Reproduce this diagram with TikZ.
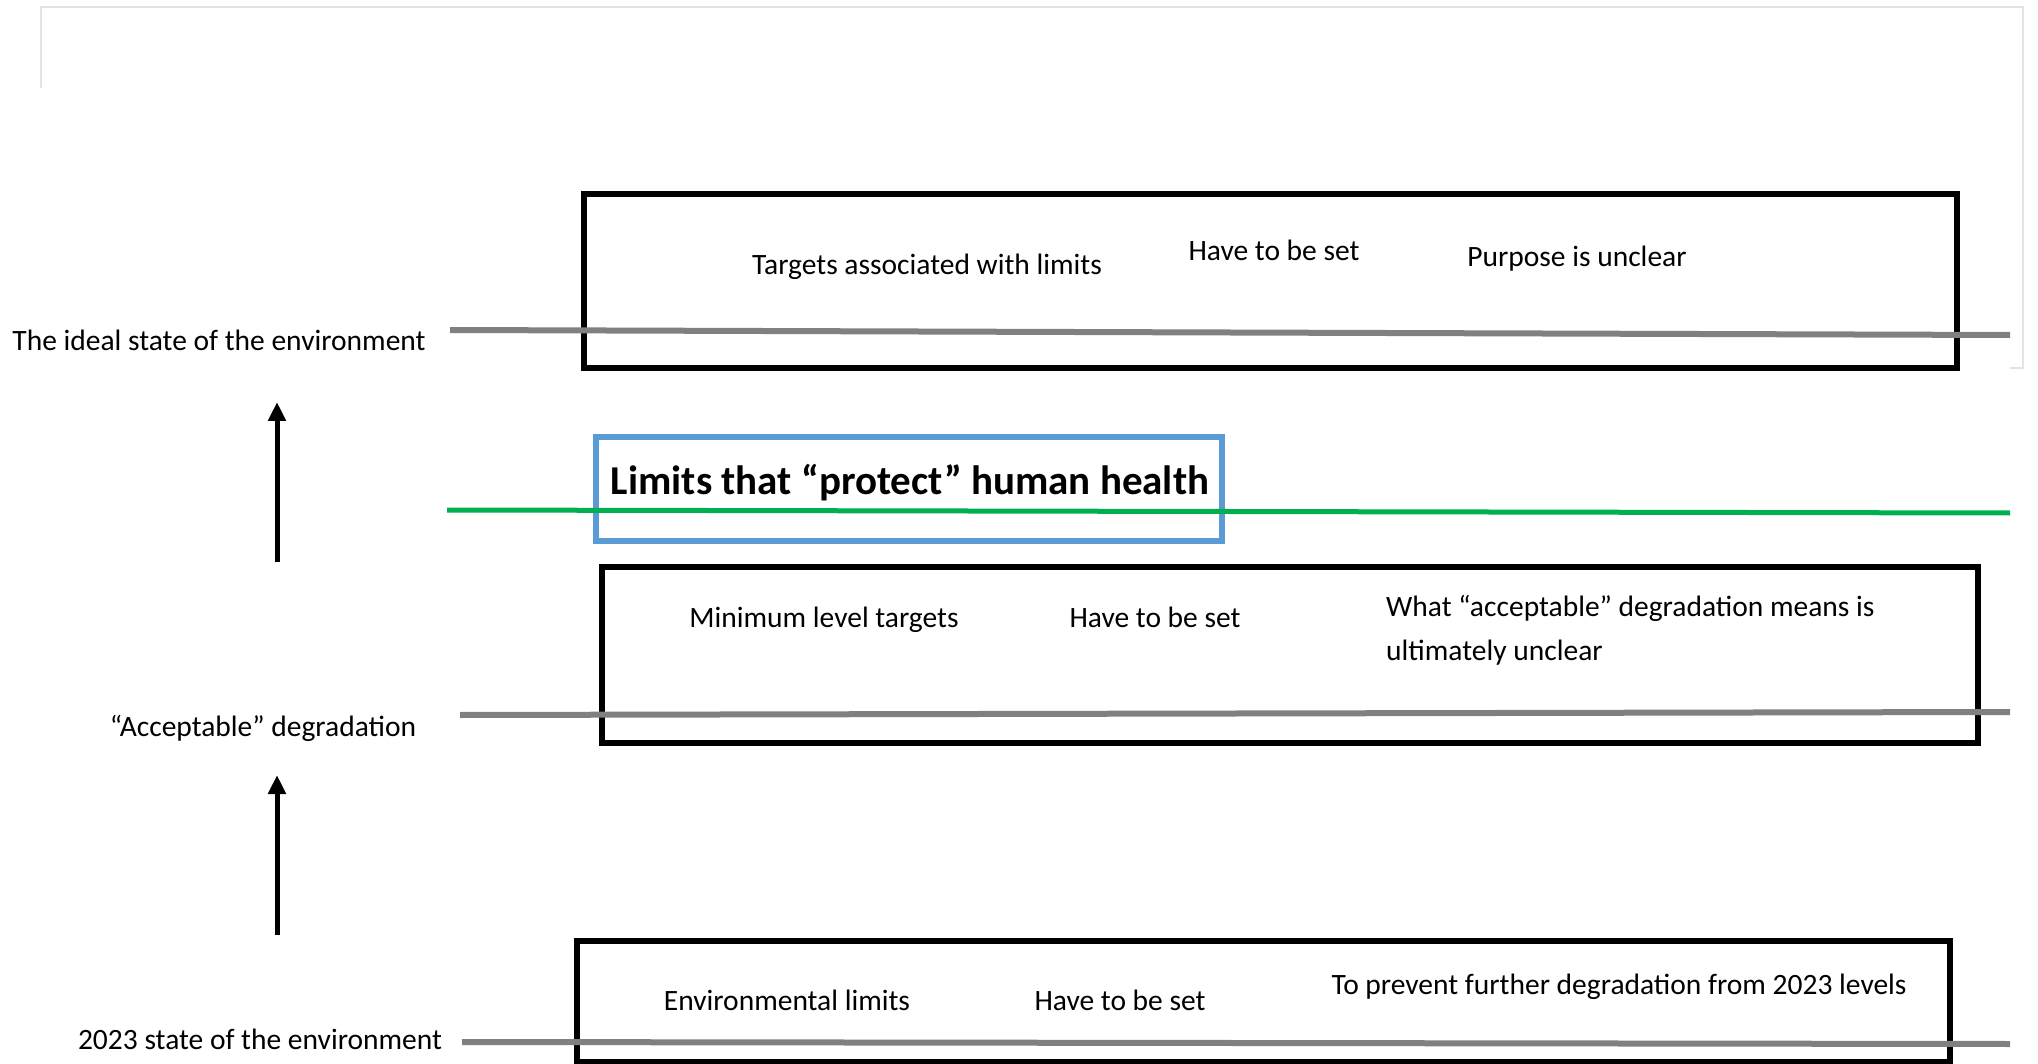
\documentclass[tikz,border=0pt]{standalone}
\usepackage{fontspec}
\setmainfont{Carlito}
\usetikzlibrary{arrows.meta,positioning}
\definecolor{levelgray}{RGB}{128,128,128}
\definecolor{healthblue}{RGB}{91,155,213}
\definecolor{healthgreen}{RGB}{0,176,80}
\definecolor{framegray}{RGB}{228,228,228}

\begin{document}
\begin{tikzpicture}[x=1pt,y=-1pt,
  txt/.style={font=\fontsize{29.5}{44}\selectfont, inner sep=0pt, anchor=base},
  levelbox/.style={draw=black, line width=6pt, inner sep=0pt, outer sep=0pt},
  levelline/.style={draw=levelgray, line width=6pt},
  up/.style={-{Triangle[length=19pt,width=17pt]}, line width=5pt}]
\useasboundingbox (0,0) rectangle (2038,1064);
% faint frame round the top
\draw[framegray, line width=2pt] (41,88) -- (41,7) -- (2023,7) -- (2023,368) -- (2010,368);
% the three boxes
\node[levelbox, minimum width=1373pt, minimum height=174pt] (ideal) at (1270.5,281) {};
\node[levelbox, minimum width=1376pt, minimum height=176pt] (accept) at (1290,655) {};
\node[levelbox, minimum width=1373pt, minimum height=121pt] (now) at (1263.5,1001.5) {};
% health box
\node[draw=healthblue, line width=6pt, minimum width=626pt, minimum height=104pt, inner sep=0pt] (health) at (909,489) {};
\node[txt, font=\fontsize{41}{44}\selectfont\bfseries] (healthtxt) at (910,494) {Limits that “protect” human health};
% level lines
\coordinate (l1a) at (450,330);  \coordinate (l1b) at (2010,335);
\coordinate (l2a) at (460,715);  \coordinate (l2b) at (2010,712);
\coordinate (l3a) at (462,1042); \coordinate (l3b) at (2010,1044);
\coordinate (ga) at (447,510);   \coordinate (gb) at (2010,513);
\foreach \i in {1,2,3}
  \draw[levelline] (l\i a) -- (l\i b);
\draw[healthgreen, line width=5pt] (ga) -- (gb);
% level names
\node[txt] (idealname) at (219,351) {The ideal state of the environment};
\node[txt] (acceptname) at (263,736) {“Acceptable” degradation};
\node[txt] (nowname) at (260,1049) {2023 state of the environment};
% arrows
\coordinate (a1s) at (277,562); \coordinate (a1e) at (277,402);
\coordinate (a2s) at (277,935); \coordinate (a2e) at (277,775);
\draw[up] (a1s) -- (a1e);
\draw[up] (a2s) -- (a2e);
% box texts
\node[txt] (t1) at (927,275) {Targets associated with limits};
\node[txt] (s1) at (1274,261) {Have to be set};
\node[txt] (p1) at (1577,267) {Purpose is unclear};
\node[txt] (t2) at (824,627) {Minimum level targets};
\node[txt] (s2) at (1155,627) {Have to be set};
\node[txt, anchor=base west, align=left] (p2) at (1386,660) {What “acceptable” degradation means is\\ultimately unclear};
\node[txt] (t3) at (787,1010) {Environmental limits};
\node[txt] (s3) at (1120,1010) {Have to be set};
\node[txt] (p3) at (1619,994) {To prevent further degradation from 2023 levels};
\end{tikzpicture}
\end{document}
